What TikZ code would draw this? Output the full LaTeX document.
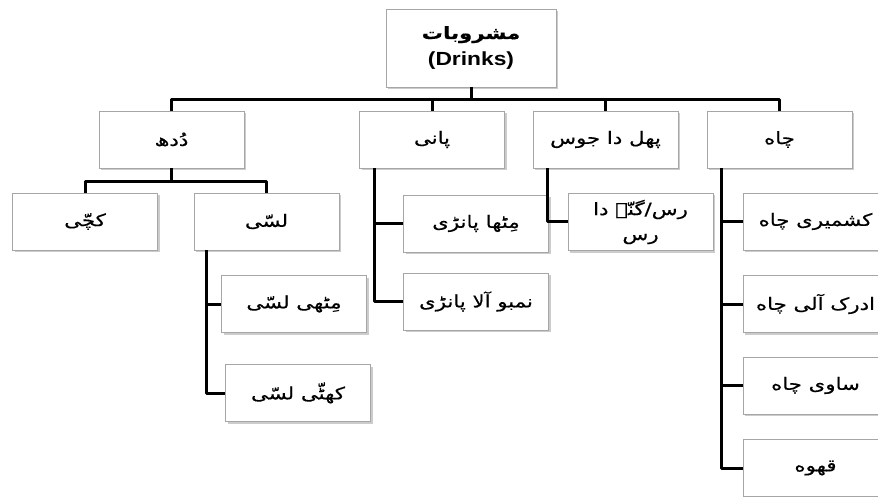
\documentclass[tikz,border=0pt]{standalone}
\usepackage{fontspec}
\setmainfont{Liberation Sans}
\newfontfamily\arabicfont[Script=Arabic,FakeStretch=1.25,FakeBold=0.5]{DejaVu Sans}
\newfontfamily\latinwide[FakeStretch=1.2]{Liberation Sans}
\TeXXeTstate=1
\usetikzlibrary{shadows}
\newcommand{\urdu}[1]{{\arabicfont\beginR #1\endR}}

\begin{document}
\begin{tikzpicture}[x=1pt,y=-1pt,
  box/.style={draw=gray!70, line width=0.9pt, fill=white,
    minimum width=145pt, minimum height=57pt, inner sep=0pt,
    font=\fontsize{17}{25}\selectfont,
    drop shadow={shadow xshift=2pt, shadow yshift=-2pt, opacity=0.4, fill=gray}},
  conn/.style={line width=3pt, line join=round}]
\useasboundingbox (0,0) rectangle (878,497);
\clip (0,0) rectangle (878,497);
\fill[white] (0,0) rectangle (878,497);

% root
\node[box, minimum width=170pt, minimum height=78pt, align=center,
  font=\fontsize{17}{27}\selectfont] (root) at (471,48)
  {{\arabicfont\bfseries\beginR مشروبات\endR}\\{\latinwide\bfseries\fontsize{19}{27}\selectfont (Drinks)}};

% first level
\node[box] (doodh) at (171.5,139.5) {\urdu{دُدھ}};
\node[box] (pani)  at (432,139.5)   {\urdu{پانی}};
\node[box] (juice) at (605.5,139.5) {\urdu{پھل دا جوس}};
\node[box] (chah)  at (779.5,139.5) {\urdu{چاه}};

% milk branch
\node[box] (kachi) at (85,221.5)    {\urdu{کچّی}};
\node[box] (lassi) at (266.5,221.5) {\urdu{لسّی}};
\node[box] (mlassi) at (294,304)    {\urdu{مِٹھی لسّی}};
\node[box] (klassi) at (298,393)    {\urdu{کھٹّی لسّی}};

% water branch
\node[box] (mpani) at (476,223.5)   {\urdu{مِٹھا پانڑی}};
\node[box] (npani) at (476,301.5)   {\urdu{نمبو آلا پانڑی}};

% juice branch
\node[box, align=center] (ras) at (640.5,222) {\urdu{رس/گنّے دا}\\\urdu{رس}};

% tea branch
\node[box] (kashmiri) at (815.5,221.5) {\urdu{کشمیری چاه}};
\node[box] (adrak)    at (815.5,304)   {\urdu{ادرک آلی چاه}};
\node[box] (saavi)    at (815.5,385.5) {\urdu{ساوی چاه}};
\node[box] (qahwa)    at (815.5,468)   {\urdu{قهوه}};

% bus levels
\coordinate (busA) at (0,100);
\coordinate (busB) at (0,182);

% connectors
\draw[conn] (root.south) -- (root.south |- busA);
\draw[conn] (doodh.north) -- (doodh.north |- busA) -| (chah.north);
\draw[conn] (pani.north) -- (pani.north |- busA);
\draw[conn] (juice.north) -- (juice.north |- busA);

\draw[conn] (doodh.south) -- (doodh.south |- busB);
\draw[conn] (kachi.north) -- (kachi.north |- busB) -| (lassi.north);

\draw[conn] ([xshift=13pt]lassi.south west) |- (mlassi.west);
\draw[conn] ([xshift=13pt]lassi.south west) |- (klassi.west);

\draw[conn] ([xshift=15pt]pani.south west) |- (mpani.west);
\draw[conn] ([xshift=15pt]pani.south west) |- (npani.west);

\draw[conn] ([xshift=15pt]juice.south west) |- (ras.west);

\draw[conn] ([xshift=15pt]chah.south west) |- (kashmiri.west);
\draw[conn] ([xshift=15pt]chah.south west) |- (adrak.west);
\draw[conn] ([xshift=15pt]chah.south west) |- (saavi.west);
\draw[conn] ([xshift=15pt]chah.south west) |- (qahwa.west);
\end{tikzpicture}
\end{document}
